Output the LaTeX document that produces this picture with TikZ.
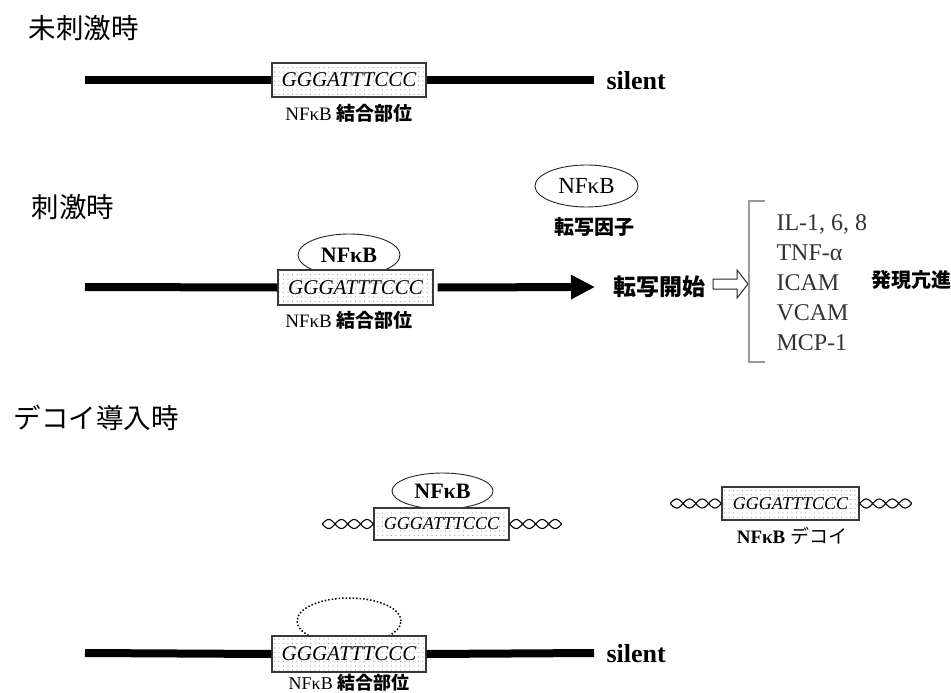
\documentclass[tikz,border=0pt]{standalone}
\usepackage{fontspec}
\setmainfont{Liberation Serif}
\newfontfamily\jp{Noto Sans CJK JP}
\usetikzlibrary{shapes.geometric,arrows.meta,patterns.meta,calc}

\tikzdeclarepattern{
  name=stipple,
  type=uncolored,
  bounding box={(-1pt,-1pt) and (1pt,1pt)},
  tile size={(4.5pt,4.5pt)},
  code={\pgfpathcircle{\pgfpointorigin}{0.55pt}\pgfusepath{fill}}
}

\begin{document}
\begin{tikzpicture}[x=1pt,y=-1pt,
  dnaline/.style={line width=8pt},
  sitebox/.style={draw=gray!45!black, line width=1.4pt, preaction={fill=white},
    pattern=stipple, pattern color=gray!70, inner sep=0pt,
    font=\fontsize{21}{21}\selectfont\itshape},
  decoybox/.style={sitebox, font=\fontsize{18}{18}\selectfont\itshape,
    minimum width=136pt, minimum height=33pt},
  protein/.style={ellipse, draw=gray!30!black, line width=0.9pt, fill=white, inner sep=0pt},
  ghost/.style={ellipse, draw=black, line width=1.5pt, dotted, inner sep=0pt},
  title/.style={anchor=west, font=\fontsize{27.5}{30}\selectfont\jp},
  sitelabel/.style={font=\fontsize{19}{22}\selectfont},
  silenttxt/.style={anchor=west, font=\fontsize{26}{28}\selectfont\bfseries},
  helixline/.style={line width=1.1pt, black},
  bracket/.style={draw=gray!80, line width=1.2pt}
]
\useasboundingbox (0,0) rectangle (951,693);

% ---------- section 1 ----------
\node[title] (t1) at (25,28) {未刺激時};
\coordinate (l1) at (85,80);
\coordinate (r1) at (594,80);
\node[sitebox, minimum width=154pt, minimum height=34pt] (b1) at (349,80) {GGGATTTCCC};
\draw[dnaline] (l1) -- (b1.west);
\draw[dnaline] (b1.east) -- (r1);
\node[silenttxt] (s1) at (603,81) {silent};
\node[sitelabel] (lab1) at (349,113) {NFκB {\jp\bfseries 結合部位}};

% ---------- section 2 ----------
\node[title] (t2) at (28,207) {刺激時};
\node[protein, minimum width=103pt, minimum height=42pt, font=\fontsize{23}{23}\selectfont] (p0) at (586.5,186) {NFκB};
\node[font=\fontsize{20}{20}\selectfont\jp\bfseries] (tf) at (594,227) {転写因子};
\node[protein, minimum width=102pt, minimum height=42pt, font=\fontsize{22}{22}\selectfont\bfseries] (p2) at (349,255) {NFκB};
\coordinate (l2) at (85,287);
\coordinate (a2) at (595,287);
\node[sitebox, minimum width=155pt, minimum height=35pt] (b2) at (355.5,287.5) {GGGATTTCCC};
\draw[dnaline] (l2) -- (b2.west);
\draw[dnaline, -{Triangle[length=24pt,width=23pt]}] ($(b2.east)+(4,0)$) -- (a2);
\node[sitelabel] (lab2) at (349,320) {NFκB {\jp\bfseries 結合部位}};
\node[anchor=west, font=\fontsize{23}{23}\selectfont\jp\bfseries] (start) at (610,287) {転写開始};
\draw[line width=1pt, draw=gray!30!black, fill=white]
  (713,279) -- (737,279) -- (737,270) -- (748,284) -- (737,298) -- (737,289) -- (713,289) -- cycle;
\draw[bracket] (765,201) -- (749,201) -- (749,362) -- (765,362);
\node[anchor=west, align=left, text=black!80, font=\fontsize{24}{30}\selectfont] (genes) at (773,283)
  {IL-1, 6, 8\\TNF-α\\ICAM\\VCAM\\MCP-1};
\node[anchor=west, font=\fontsize{20}{20}\selectfont\jp\bfseries] (up) at (868,280) {発現亢進};

% ---------- section 3 : decoy ----------
\node[title] (t3) at (10,418) {デコイ導入時};
\node[protein, minimum width=101pt, minimum height=36pt, font=\fontsize{22}{22}\selectfont\bfseries] (p3) at (442.5,491) {NFκB};
\node[decoybox, minimum width=135pt, minimum height=32pt] (db1) at (441.5,524) {GGGATTTCCC};
\node[decoybox, minimum width=137pt, minimum height=33pt] (db2) at (790.5,503.5) {GGGATTTCCC};
\foreach \b in {db1,db2}{
  \begin{scope}[shift={(\b.west)}]
    \draw[helixline] plot[domain=-51:0, samples=60, smooth] (\x,{4.5*sin(\x/25.5*360)});
    \draw[helixline] plot[domain=-51:0, samples=60, smooth] (\x,{-4.5*sin(\x/25.5*360)});
  \end{scope}
  \begin{scope}[shift={(\b.east)}]
    \draw[helixline] plot[domain=0:52, samples=60, smooth] (\x,{4.5*sin(\x/26*360)});
    \draw[helixline] plot[domain=0:52, samples=60, smooth] (\x,{-4.5*sin(\x/26*360)});
  \end{scope}
}
\node[font=\fontsize{19}{22}\selectfont] (dlab) at (792,536) {\textbf{NFκB} {\jp デコイ}};

% ---------- section 4 ----------
\node[ghost, minimum width=104pt, minimum height=46pt] (p4) at (349,621) {};
\coordinate (l4) at (85,653);
\coordinate (r4) at (594,653);
\node[sitebox, minimum width=154pt, minimum height=36pt] (b4) at (349,654) {GGGATTTCCC};
\draw[dnaline] (l4) -- (b4.west);
\draw[dnaline] (b4.east) -- (r4);
\node[silenttxt] (s4) at (603,654) {silent};
\node[sitelabel, font=\fontsize{18}{20}\selectfont] (lab4) at (349,683) {NFκB {\jp\bfseries 結合部位}};
\end{tikzpicture}
\end{document}
